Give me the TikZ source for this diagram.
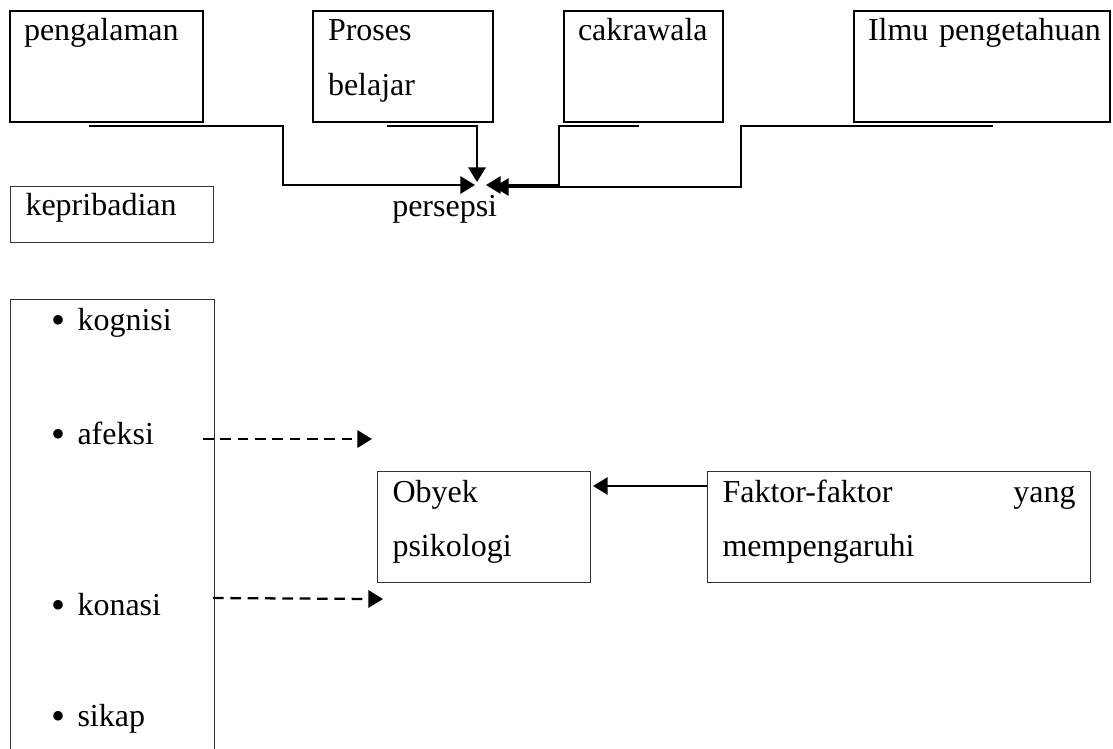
\documentclass[tikz,border=0pt]{standalone}
\usepackage{fontspec}
\setmainfont{Liberation Serif}
\usetikzlibrary{arrows.meta,calc}
\newdimen\upx \upx=0.75pt
\newcommand{\teks}{\fontsize{24pt}{40.5pt}\selectfont}
\newcommand{\butir}[1]{\hspace*{31\upx}\makebox[26\upx][l]{\raisebox{-3\upx}{\fontsize{30pt}{30pt}\selectfont\textbullet}}#1}
\tikzset{%
	kotak/.style    = {draw, rectangle, anchor=north west, line width=1.5pt, inner xsep=14\upx, inner ysep=0pt, align=left, font=\teks},
	tipis/.style    = {kotak, line width=0.8pt, draw=black!80}, % kotak bawah
	tulisan/.style  = {font=\teks, inner sep=0pt},
	panah/.style    = {line width=1.7pt, -{Triangle[length=11pt,width=13pt]}},
	putus/.style    = {panah, dash pattern=on 8pt off 5pt},
}

\begin{document}
\begin{tikzpicture}[x=0.75pt,y=-0.75pt]
	\useasboundingbox (0,0) rectangle (1113,749);
	\clip (0,0) rectangle (1113,749);
	% baris atas
	\node [kotak,text width=165\upx,text height=30\upx,text depth=81\upx] (pg) at (9,10) {pengalaman};
	\node [kotak,inner xsep=15\upx,text width=150\upx,text height=30\upx,text depth=81\upx] (pb) at (312,10) {Proses\\belajar};
	\node [kotak,text width=131\upx,text height=30\upx,text depth=81\upx] (ck) at (563,10) {cakrawala};
	\node [kotak,inner xsep=14\upx,text width=228\upx,text height=30\upx,text depth=81\upx] (il) at (853,10) {\mbox{Ilmu pengetahuan}};
	\node [tipis,inner xsep=15\upx,text width=173\upx,text height=29\upx,text depth=27\upx] (kp) at (10,186) {kepribadian};
	\node [tulisan,anchor=base west] (ps) at (392,216) {persepsi};
	\coordinate (temu) at ($(ps.base west)+(85,-31)$);
	
	\draw [panah] ($(pg.south west)+(80,3)$) -- ++(194,0) |- ($(temu)+(-2,0)$);
	\draw [panah] ($(pb.south west)+(75,3)$) -| ($(temu)+(0,-3)$);
	\draw [panah] ($(ck.south west)+(76,3)$) -- ++(-80,0) |- ($(temu)+(9,0)$);
	\draw [panah] ($(il.south west)+(140,3)$) -- ++(-252,0) |- ($(temu)+(17,2)$);
	
	% bagian bawah
	\node [tipis,inner xsep=10\upx,text width=184\upx,text height=31\upx,text depth=440\upx] (ks) at (10,299)
		{\butir{kognisi}\\[60\upx]\butir{afeksi}\\[117\upx]\butir{konasi}\\[57\upx]\butir{sikap}};
	\node [tipis,inner xsep=15\upx,text width=183\upx,text height=31\upx,text depth=80\upx] (ob) at (377,471) {Obyek\\psikologi};
	\node [tipis,inner xsep=15\upx,text width=353\upx,text height=31\upx,text depth=80\upx] (fk) at (707,471) {Faktor-faktor\hfill yang\\mempengaruhi};
	\coordinate (af) at ($(ob.north west)+(-5,-32)$);
	\coordinate (kn) at ($(ob.south west)+(6,16)$);
	
	\draw [putus] ($(ks.north west)+(193,140)$) -- (af);
	\draw [putus] ($(ks.north west)+(203,299)$) -- (kn);
	\draw [panah,line width=1.9pt] ($(fk.north west)+(0,15)$) -- ($(ob.north east)+(2,15)$);
\end{tikzpicture}
\end{document}
